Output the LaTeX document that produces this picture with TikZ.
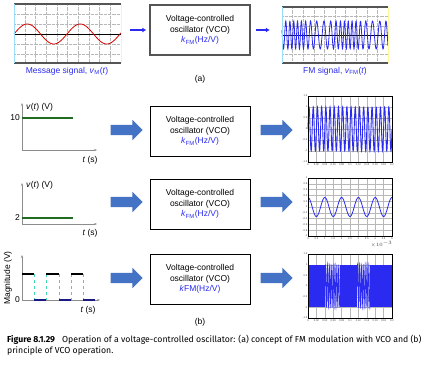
\documentclass[tikz,border=0pt]{standalone}
\usepackage{fontspec}
\setmainfont{Liberation Sans}
\newfontfamily\capfont{Fira Sans}
\usetikzlibrary{shapes.arrows,arrows.meta}
\definecolor{cblue}{HTML}{2A2AF0}
\definecolor{carrow}{HTML}{4472C4}
\definecolor{cgreen}{HTML}{1F6B1F}
\definecolor{cframe}{HTML}{555555}
\definecolor{cdash}{HTML}{3FD9B0}
\definecolor{cnavy}{HTML}{1A1A80}
\begin{document}
\begin{tikzpicture}[x=1pt,y=-1pt,
  vco/.style={draw,minimum width=100pt,minimum height=50pt,inner sep=0pt,
    font=\fontsize{8.5}{10.5}\selectfont,align=center},
  fat/.style={single arrow,fill=carrow,minimum height=32pt,inner xsep=0pt,inner ysep=5pt,
    single arrow head extend=5pt},
  lbl/.style={font=\fontsize{8.5}{10}\selectfont,inner sep=1pt},
  tick/.style={font=\fontsize{2.6}{3}\selectfont,inner sep=0.6pt,text=black!75},
  gridl/.style={black!28,line width=0.3pt},
  axis/.style={draw=black!45,line width=0.8pt,{Stealth[length=3pt]}-{Stealth[length=3pt]}},
  lvl/.style={cgreen,line width=1.6pt}]
  \useasboundingbox (0,0) rectangle (428,366);

  % (a) message signal
  \node[minimum width=107pt,minimum height=59pt,inner sep=0pt] (msg) at (67.5,33.5) {};
  \foreach \i in {1,...,9} \draw[gridl,densely dotted] ({14+10.7*\i},4) -- ({14+10.7*\i},63);
  \foreach \yy in {14,24,44,54} \draw[gridl,densely dotted] (14,\yy) -- (121,\yy);
  \draw[line width=0.8pt] (14,34) -- (121,34);
  \draw[red!85!black,line width=0.8pt] plot[domain=0:107,samples=120,smooth] ({14+\x},{34-10*sin(\x/53*360)});
  \draw[cframe,line width=1.5pt] (msg.north west) -- (msg.north east) (msg.south west) -- (msg.south east);
  \draw[cyan!40] (msg.north west) -- (msg.south west);
  \draw[yellow!40] (msg.north east) -- (msg.south east);
  \node[lbl,text=cblue] (msglbl) at (67,71) {Message signal, \textit{v}\textsubscript{M}(\textit{t})};

  \node[vco,draw=cframe,line width=1.4pt] (vcoa) at (200,30) {Voltage-controlled\\oscillator (VCO)\\{\color{cblue}\textit{k}\textsubscript{FM}(Hz/V)}};

  % (a) FM signal
  \node[minimum width=106pt,minimum height=56pt,inner sep=0pt] (fm) at (335,35) {};
  \foreach \i in {1,...,9} \draw[gridl,densely dotted] ({282+10.6*\i},7) -- ({282+10.6*\i},63);
  \foreach \yy in {16.3,25.7,44.3,53.7} \draw[gridl,densely dotted] (282,\yy) -- (388,\yy);
  \draw[line width=0.8pt] (282,35) -- (388,35);
  \draw[cblue,line width=0.8pt] plot[domain=0:106,samples=450] ({282+\x},{35-14*sin(72*\x-200*cos(6.792*\x))});
  \draw[cframe,line width=1.5pt] (fm.north west) -- (fm.north east) (fm.south west) -- (fm.south east);
  \draw[cyan!40] (fm.north west) -- (fm.south west);
  \draw[yellow!40] (fm.north east) -- (fm.south east);
  \node[lbl,text=cblue] (fmlbl) at (335,71) {FM signal, \textit{v}\textsubscript{FM}(\textit{t})};

  \draw[cblue,line width=1.6pt,-{Latex[length=4pt,width=5pt]},shorten <=9pt,shorten >=3pt] (vcoa.west -| msg.east) -- (vcoa.west);
  \draw[cblue,line width=1.6pt,-{Latex[length=4pt,width=5pt]},shorten <=5pt,shorten >=12pt] (vcoa.east) -- (vcoa.east -| fm.west);
  \node[lbl] (capa) at (200,79) {(a)};

  % (b) inputs
  \draw[axis] (22,103) -- (22,150) -- (97,150);
  \draw[lvl] (22,118) -- (73,118);
  \node[lbl,anchor=east] (ten) at (21,118) {10};
  \node[lbl,anchor=west] (vt1) at (25,107) {\textit{v}(\textit{t}) (V)};
  \node[lbl] (ts1) at (90,160) {\textit{t} (s)};

  \draw[axis] (22,183) -- (22,224) -- (97,224);
  \draw[lvl] (22,218) -- (73,218);
  \node[lbl,anchor=east] (two) at (21,218) {2};
  \node[lbl,anchor=west] (vt2) at (25,185) {\textit{v}(\textit{t}) (V)};
  \node[lbl] (ts2) at (90,233) {\textit{t} (s)};

  \draw[axis] (22,255) -- (22,300) -- (100,300);
  \foreach \a in {34,46,59,71,83} \draw[cdash,dashed,line width=0.8pt] (\a,274) -- (\a,300);
  \foreach \a/\b in {22/34,46/59,71/83} \draw[line width=1.6pt] (\a,274) -- (\b,274);
  \foreach \a/\b in {34/46,59/71,83/95} \draw[cnavy,line width=1.8pt] (\a,300) -- (\b,300);
  \node[lbl,anchor=east] (zero) at (21,300) {0};
  \node[lbl,rotate=90] (mag) at (8,278) {Magnitude (V)};
  \node[lbl] (ts3) at (88,310) {\textit{t} (s)};

  % (b) VCO blocks
  \foreach \n/\yy in {1/131,2/204} \node[vco] (vco\n) at (200,\yy) {Voltage-controlled\\oscillator (VCO)\\{\color{cblue}\textit{k}\textsubscript{FM}(Hz/V)}};
  \node[vco] (vco3) at (200,279) {Voltage-controlled\\oscillator (VCO)\\{\color{cblue}\textit{k}FM(Hz/V)}};
  \foreach \n/\yy in {1/130,2/202,3/278} {
    \node[fat] (inar\n) at (124,\yy) {};
    \node[fat] (outar\n) at (274,\yy) {};
  }

  % (b) output 1
  \foreach \i in {1,...,9} \draw[gridl] ({308+8.4*\i},96) -- ({308+8.4*\i},162);
  \foreach \i in {1,...,5} \draw[gridl] (308,{96+11*\i}) -- (392,{96+11*\i});
  \draw[cblue,line width=0.9pt] plot[domain=0:84,samples=500] ({308+\x},{129-22*sin(\x/4.2*360)});
  \node[draw,minimum width=84pt,minimum height=66pt,inner sep=0pt,line width=0.4pt] (out1) at (350,129) {};
  \foreach \v [count=\i] in {1.5,1,0.5,0,-0.5,-1,-1.5} \node[tick,anchor=east] (ya\i) at (308,{96+11*(\i-1)}) {\v};
  \foreach \v [count=\i] in {0,0.02,0.04,0.06,0.08,0.1,0.12,0.14,0.16,0.18,0.2} \node[tick,anchor=north] (xa\i) at ({308+8.4*(\i-1)},163) {\v};

  % (b) output 2
  \foreach \i in {1,...,9} \draw[gridl] ({308+8.4*\i},178) -- ({308+8.4*\i},236);
  \foreach \i in {1,...,9} \draw[gridl] (308,{178+5.8*\i}) -- (392,{178+5.8*\i});
  \draw[cblue,line width=0.8pt] plot[domain=0:84,samples=200,smooth] ({308+\x},{207-9.5*cos(\x/16.8*360)});
  \node[draw,minimum width=84pt,minimum height=58pt,inner sep=0pt,line width=0.4pt] (out2) at (350,207) {};
  \foreach \v [count=\i] in {1,0.8,0.6,0.4,0.2,0,-0.2,-0.4,-0.6,-0.8,-1} \node[tick,anchor=east] (yb\i) at (308,{178+5.8*(\i-1)}) {\v};
  \foreach \v [count=\i] in {0,0.5,1,1.5,2,2.5,3,3.5,4,4.5,5} \node[tick,anchor=north] (xb\i) at ({308+8.4*(\i-1)},237) {\v};
  \node[tick,anchor=north east] (exb) at (393,240) {$\times10^{-3}$};

  % (b) output 3
  \foreach \i in {1,...,9} \draw[gridl] ({308+8.4*\i},254) -- ({308+8.4*\i},318);
  \foreach \i in {1,...,5} \draw[gridl] (308,{254+10.67*\i}) -- (392,{254+10.67*\i});
  \foreach \a/\b in {308/325,340/357,370/392} \fill[cblue] (\a,264.7) rectangle (\b,307.3);
  \foreach \a/\b in {325/15,357/13}
    \draw[cblue,line width=0.7pt] plot[domain=0:\b,samples=160] ({\a+\x},{286-21.3*sin(\x/1.9*360)});
  \node[draw,minimum width=84pt,minimum height=64pt,inner sep=0pt,line width=0.4pt] (out3) at (350,286) {};
  \foreach \v [count=\i] in {1.5,1,0.5,0,-0.5,-1,-1.5} \node[tick,anchor=east] (yc\i) at (308,{254+10.67*(\i-1)}) {\v};
  \foreach \v [count=\i] in {0,0.02,0.04,0.06,0.08,0.1,0.12,0.14,0.16,0.18,0.2} \node[tick,anchor=north] (xc\i) at ({308+8.4*(\i-1)},319) {\v};

  \node[lbl] (capb) at (200,322) {(b)};

  \node[anchor=north west,align=left,inner sep=0pt,font=\capfont\fontsize{8.7}{10.5}\selectfont] (cap) at (7,335)
    {\textbf{Figure 8.1.29}\hspace{7pt}Operation of a voltage-controlled oscillator: (a) concept of FM modulation with VCO and (b)\\principle of VCO operation.};
\end{tikzpicture}
\end{document}
